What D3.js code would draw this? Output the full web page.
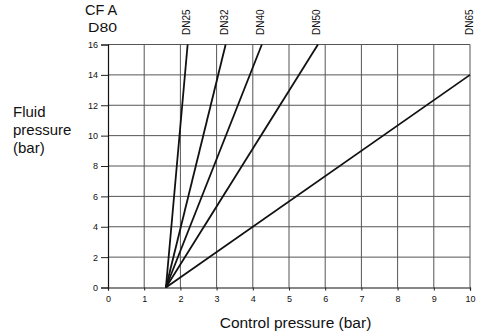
<!DOCTYPE html>
<html>
<head>
<meta charset="utf-8">
<script src="https://cdn.jsdelivr.net/npm/d3@7/dist/d3.min.js"></script>
<style>
  html, body { margin: 0; padding: 0; background: #fff; }
  svg { display: block; font-family: "Liberation Sans", Arial, sans-serif; }
</style>
</head>
<body>
<svg id="chart" width="480" height="333"></svg>
<script>
// Valve sizes and the control pressure at which each line reaches its end point
const sizes = ["DN25", "DN32", "DN40", "DN50", "DN65"];
const startControl = 1.6;           // all lines start at 1.6 bar control pressure, 0 bar fluid
const endControl = [2.2, 3.25, 4.25, 5.8, 10];
const endFluid = [16, 16, 16, 16, 14];

const xTicks = [0, 1, 2, 3, 4, 5, 6, 7, 8, 9, 10];
const yTicks = [0, 2, 4, 6, 8, 10, 12, 14, 16];

const svg = d3.select("#chart");
const x = d3.scaleLinear().domain([0, 10]).range([108, 470]);
const y = d3.scaleLinear().domain([0, 16]).range([287.5, 44.5]);

// grid
const grid = svg.append("g").attr("stroke", "#555").attr("stroke-width", 1);
grid.selectAll("line.v").data(xTicks.slice(1)).join("line")
  .attr("x1", d => x(d)).attr("x2", d => x(d))
  .attr("y1", y(0)).attr("y2", y(16));
grid.selectAll("line.h").data(yTicks.slice(1)).join("line")
  .attr("x1", x(0)).attr("x2", x(10))
  .attr("y1", d => y(d)).attr("y2", d => y(d));

// axes
const xAxis = d3.axisBottom(x).tickValues(xTicks).tickSize(3).tickPadding(5).tickFormat(d3.format("d"));
const yAxis = d3.axisLeft(y).tickValues(yTicks).tickSize(7).tickPadding(3).tickFormat(d3.format("d"));

const gx = svg.append("g").attr("transform", `translate(0,${y(0)})`).call(xAxis);
const gy = svg.append("g").attr("transform", `translate(${x(0)},0)`).call(yAxis);
[gx, gy].forEach(g => {
  g.select(".domain").attr("stroke", "#111").attr("stroke-width", 1.2);
  g.selectAll(".tick line").attr("stroke", "#222");
  g.selectAll("text").attr("font-size", 9).attr("fill", "#111")
    .attr("font-family", "'Liberation Sans', Arial, sans-serif");
});

// characteristic lines
const pts = sizes.map((s, i) => ({ name: s, x0: startControl, x1: endControl[i], y1: endFluid[i] }));
svg.append("g").selectAll("line").data(pts).join("line")
  .attr("x1", d => x(d.x0)).attr("y1", y(0))
  .attr("x2", d => x(d.x1)).attr("y2", d => y(d.y1))
  .attr("stroke", "#111").attr("stroke-width", 1.8);

// size labels above the top edge
svg.append("g").selectAll("text").data(pts).join("text")
  .attr("transform", d => `translate(${x(d.x1) + 2.5},35) rotate(-90)`)
  .attr("font-size", 10).attr("fill", "#111")
  .text(d => d.name);

// titles
svg.append("text").attr("x", 85).attr("y", 15).attr("font-size", 14.5).attr("fill", "#111").text("CF A");
svg.append("text").attr("x", 88).attr("y", 32).attr("font-size", 12.5)
  .attr("textLength", 29).attr("lengthAdjust", "spacingAndGlyphs").attr("fill", "#111").text("D80");

const yl = svg.append("text").attr("font-size", 15).attr("fill", "#111");
["Fluid", "pressure", "(bar)"].forEach((t, i) =>
  yl.append("tspan").attr("x", 13).attr("y", 117 + i * 17.8).text(t));

svg.append("text").attr("x", 295.5).attr("y", 328)
  .attr("text-anchor", "middle").attr("font-size", 15.5).attr("fill", "#111")
  .text("Control pressure (bar)");
</script>
</body>
</html>
